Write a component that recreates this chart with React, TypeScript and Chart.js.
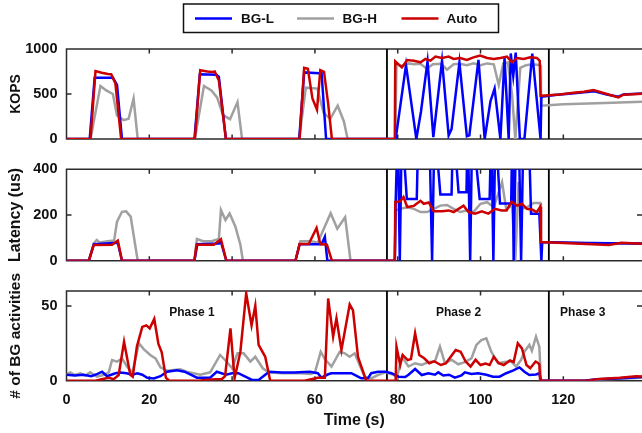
import React, { useEffect, useRef } from "react";
import { Chart, registerables } from "chart.js";

Chart.register(...registerables);

type P = [number, number];

const FONT = "'Liberation Sans', Arial, Helvetica, sans-serif";

const seriesNames = ["BG-L", "BG-H", "Auto"];
const seriesColors = ["#0000ff", "#a0a0a0", "#cc0000"];
const seriesOrder = [1, 2, 0];

const xTicks = [0, 20, 40, 60, 80, 100, 120];
const xMax = 139;
const phaseBoundaries = [77.4, 116.5];
const phaseLabels = ["Phase 1", "Phase 2", "Phase 3"];
const phaseLabelX = [30.3, 94.7, 124.7];
const phaseLabelY = 45.3;

// ---- KOPS ----
const kopsBGL: P[] = [
  [0, 0], [5.6, 0], [6.8, 680], [11.2, 680], [12.2, 600], [13.4, 0],
  [30.9, 0], [32.2, 720], [36.2, 715], [36.8, 690], [38.5, 0],
  [56.2, 0], [57.4, 740], [61, 730], [61.6, 740], [62.7, 0],
  [79.5, 0], [82, 820], [84.5, 0], [85.6, 300], [87.2, 860], [88.6, 20], [90.7, 870],
  [92.3, 40], [93, 110], [94.9, 850], [96.7, 30], [97.3, 40], [99.5, 880], [101, 0],
  [102.4, 420], [103.4, 560], [104.8, 0], [105.8, 900], [106.8, 0], [107.3, 950],
  [107.9, 700], [108.5, 960], [109.5, 0], [110.6, 0], [112.5, 950], [114.5, 0],
  [114.7, 470], [118, 490], [122, 505], [125, 520], [127.5, 530], [130.5, 495],
  [133.3, 470], [134.5, 495], [139, 505],
];
const kopsBGH: P[] = [
  [0, 0], [5.8, 0], [8.2, 590], [9.6, 540], [11.2, 500], [12.2, 260], [13.8, 210],
  [15, 225], [16.2, 450], [17.2, 0],
  [31, 0], [33.2, 590], [35, 540], [36.4, 460], [37.8, 265], [39.5, 220], [41.3, 410], [42.4, 0],
  [56.2, 0], [57.8, 570], [60.6, 560], [62.1, 290], [63.7, 225], [65.5, 370], [67, 195], [67.9, 0],
  [79.4, 0], [79.7, 830], [81, 810], [82.5, 840], [84, 830], [85.5, 835], [87, 780],
  [88.5, 830], [90.5, 835], [91.9, 770], [93.5, 830], [95, 835], [96.7, 820], [98.3, 840],
  [100, 820], [101.6, 840], [103.2, 830], [104.4, 600], [105.5, 840], [106.6, 850],
  [107.6, 500], [108.4, 0], [109.6, 790], [111, 820], [112.5, 830], [114.4, 820],
  [114.6, 370], [120, 385], [130, 400], [139, 415],
];
const kopsAuto: P[] = [
  [0, 0], [5.8, 0], [7, 755], [8.5, 737], [10, 722], [10.8, 720], [11.8, 620], [13.2, 0],
  [31, 0], [32.3, 765], [34, 750], [35.3, 745], [35.8, 750], [36.8, 650], [38.5, 0],
  [56.3, 0], [57.4, 790], [58.3, 780], [59.4, 450], [60.5, 325], [61.3, 765], [62.2, 745],
  [63.2, 390], [64.1, 0],
  [79.3, 0], [79.4, 863], [81, 796], [82.3, 878], [83.9, 870], [85.5, 852], [86.7, 889],
  [87.9, 870], [89.1, 915], [90.7, 900], [92.3, 915], [93.5, 889], [95.1, 900], [96.7, 878],
  [98.3, 907], [99.9, 926], [101.6, 900], [103.2, 889], [104.8, 900], [106.4, 915],
  [107.6, 852], [108.8, 900], [110.4, 889], [112, 907], [113.6, 900], [114.3, 870],
  [114.5, 480], [115.6, 483], [119, 495], [122.5, 515], [125, 525], [127.3, 544],
  [130.5, 500], [133.3, 463], [134.5, 493], [139, 504],
];

// ---- Latency (us) ----
const latBGL: P[] = [
  [0, 0], [5.4, 0], [6.6, 72], [12.4, 78], [13.4, 0],
  [30.9, 0], [31.6, 72], [36.8, 75], [37.3, 82], [38.6, 0],
  [55.3, 0], [56.3, 72], [61.6, 72], [62.4, 105], [63, 0],
  [79.3, 0], [79.5, 255], [80, 600], [80.5, 0], [81, 600], [82.2, 270], [84.6, 270],
  [85, 600], [87.6, 600], [88.3, 0], [88.9, 600], [90.3, 290], [93, 290], [93.4, 600],
  [94.7, 300], [96.6, 300], [96.9, 600], [97.5, 0], [98, 600], [99.8, 270], [102.2, 270],
  [102.6, 600], [103.1, 0], [103.6, 600], [104.7, 250], [107.4, 250], [107.7, 600],
  [108, 0], [108.6, 600], [109.2, 600], [109.8, 0], [110.4, 600], [111.6, 600],
  [112.2, 205], [114.2, 205], [114.7, 0], [114.9, 82], [125, 78], [139, 75],
];
const latBGH: P[] = [
  [0, 0], [5.4, 0], [6.6, 76], [7.3, 91], [8, 80], [10, 85], [11.5, 88], [12.2, 171],
  [13.4, 214], [14.4, 216], [15.5, 193], [17.2, 0],
  [30.9, 0], [31.5, 95], [33, 85], [35, 85], [36.8, 95], [37.3, 222], [38.4, 178],
  [39.4, 207], [40.8, 149], [42, 70], [42.6, 0],
  [55.3, 0], [56.5, 85], [59, 85], [60.7, 80], [63.8, 208], [65.4, 140], [67.3, 190], [68.6, 0],
  [79.3, 0], [79.5, 220], [80.6, 227], [82.3, 234], [83.9, 227], [85.5, 213], [87.1, 213],
  [88.7, 227], [90.3, 241], [91.9, 244], [93.5, 227], [95.1, 213], [96.7, 220], [98.3, 213],
  [100, 249], [101.6, 256], [103.2, 234], [104.4, 300], [105.2, 344], [106.2, 227],
  [107.6, 241], [108.4, 0], [109.2, 344], [110, 227], [111.2, 234], [112.8, 252],
  [114.4, 252], [114.6, 82], [125, 78], [139, 74],
];
const latAuto: P[] = [
  [0, 0], [5.4, 0], [6.6, 69], [11, 70], [12.4, 88], [13.4, 0],
  [30.9, 0], [31.4, 70], [35.6, 70], [37.3, 94], [38.6, 0],
  [55.3, 0], [56.3, 73], [58.5, 73], [60.4, 143], [61.3, 73], [62.9, 70], [64.1, 0],
  [79.3, 0], [79.4, 257], [80.6, 260], [81.4, 279], [82.3, 235], [83.9, 240], [85.5, 262],
  [86.3, 249], [87.5, 255], [88.7, 216], [90.7, 216], [92.3, 220], [93.5, 213], [94.7, 227],
  [95.9, 241], [97.1, 213], [98.7, 206], [100.3, 216], [101.9, 206], [103.5, 227],
  [105.1, 220], [106.3, 220], [107.5, 259], [108.8, 241], [110, 249], [111.2, 227],
  [112.4, 224], [113.6, 213], [114.4, 235], [114.6, 82], [120, 78], [127, 72], [131, 69],
  [134, 79], [139, 74],
];

// ---- # of BG activities ----
const bgBGL: P[] = [
  [0, 4], [2, 3.5], [4, 4], [6, 3], [7.5, 4.5], [8.6, 6], [9.8, 3], [11.8, 5], [13, 5.5],
  [14.5, 5], [15.9, 4], [17.1, 5], [18.3, 4], [19.5, 2], [21.1, 1.5], [22.7, 3], [24.3, 6],
  [26.7, 7], [28.5, 6], [30, 4], [31.5, 2], [34.7, 2], [36.3, 6], [38.5, 4], [40, 5],
  [41.5, 5], [43.2, 2.7], [44.8, 0.5], [46.4, 0.5], [48, 4], [49, 6], [52, 5.5], [55, 5.5],
  [58.8, 6], [60.7, 5], [61.6, 2], [63.2, 4.3], [64, 5], [68.8, 5], [70.4, 2.7], [71.2, 1.6],
  [72.8, 1.6], [73.6, 5], [75.2, 6], [77, 6], [78.5, 5], [80.2, 2.7], [81.8, 2.5], [82.6, 4],
  [84.2, 7.8], [85.8, 3.8], [87.4, 5], [89, 4], [89.8, 5.6], [91, 3.5], [92.4, 4], [93.8, 2],
  [95.4, 3.5], [96.2, 5.6], [97.8, 4.5], [99.4, 5], [101.4, 4], [103, 2.7], [104.6, 2.7],
  [106.2, 5], [107.8, 6.7], [109.4, 8.9], [110.6, 6], [111.8, 3.8], [113.4, 4.2], [114.2, 5],
  [114.6, 0], [125, 0], [128, 1], [133, 1.5], [139, 2.5],
];
const bgBGH: P[] = [
  [0, 4], [0.9, 5.6], [2.1, 3.8], [3.3, 5], [4.5, 3.5], [5.7, 5.6], [7.3, 2.7], [8.9, 3.8],
  [10.2, 5.6], [11, 13.8], [12.2, 12.7], [13.4, 15], [14.6, 9.5], [15.9, 5.3], [17.5, 25],
  [18.7, 21], [20.3, 17], [21.5, 14.9], [22.7, 8.9], [24.3, 6.6], [27.5, 7.7], [29, 6],
  [32.3, 4], [34.7, 5.6], [37.1, 17.2], [38.7, 12.7], [40, 8.3], [41.3, 18.3], [42.8, 18.3],
  [44.4, 12.8], [45.6, 16], [47.4, 8.3], [48.8, 5.6], [52, 5], [56.5, 5], [59, 4.5], [60, 5.5],
  [61.4, 19.4], [62.4, 14.5], [64, 9.5], [66, 19.4], [67.2, 18.3], [68.4, 16], [69.6, 18.3],
  [70.8, 10.5], [72, 2.7], [73.6, 1.6], [75.2, 3.8], [77, 5.6], [79, 4], [79.8, 2], [81, 16],
  [82.6, 9.5], [84.2, 11.7], [85.8, 10.5], [87.4, 12.4], [89, 13], [90.2, 22.8], [91.4, 11.7],
  [93, 14], [94.6, 11], [96.2, 12.4], [97.8, 14.9], [99, 23.9], [100.2, 27.2], [101.4, 28.3],
  [102.6, 19.4], [104.2, 11.7], [105.8, 12.5], [107.4, 13], [108.6, 9.5], [109.8, 14],
  [110.6, 19.4], [111.8, 24], [112.4, 20], [113.4, 29.4], [114.2, 22.8], [114.6, 0],
  [126, 0], [130, 1], [135, 1.5], [139, 2],
];
const bgAuto: P[] = [
  [0, 0], [7, 0], [8.5, 1], [10.2, 2], [11.4, 1], [12.6, 3.8], [13.9, 26], [15.4, 4], [16, 2.7],
  [17, 22.8], [18.3, 36], [19.3, 37], [20.1, 35], [21.2, 41.3], [22.2, 24.6], [23, 19], [24, 2],
  [24.8, 0], [31.9, 0], [33.5, 0.5], [35.9, 1], [37.5, 1], [38.3, 3], [39.6, 35], [40.6, 1.6],
  [42, 19.4], [43.4, 58.5], [44.7, 37], [45.6, 50.2], [46.4, 24], [48, 16], [49.2, 0],
  [57.5, 0], [59.1, 1], [60.7, 2], [62.4, 2], [63.2, 55], [64.4, 29.5], [65.2, 41.8],
  [66.4, 20.5], [68.4, 51], [69.2, 47], [70.4, 16], [71.2, 9.5], [72.4, 0],
  [79.5, 0], [79.7, 22.8], [80.6, 10.5], [81.2, 17.2], [82.4, 13.8], [83.2, 14.5], [84.2, 31.7],
  [85.2, 17.2], [86.4, 15], [87.6, 11.7], [88.8, 13], [90.4, 10.5], [91.6, 11.5], [92.8, 16],
  [94, 20.5], [95.2, 19.4], [96.4, 12.8], [97.6, 9.5], [98.8, 14], [100, 10.5], [101.2, 11.5],
  [102.2, 10.5], [103.2, 16], [104.4, 11.7], [105.6, 10.5], [107.1, 13.5], [108, 12.5],
  [109, 25], [110, 21.6], [111.1, 10.5], [112, 8.3], [113.3, 12.8], [113.8, 12], [114.2, 11],
  [114.4, 0], [125.7, 0], [128, 1], [133.6, 2], [137.6, 3], [139, 2.8],
];

const kopsTicks = [0, 500, 1000];
const latTicks = [0, 200, 400];
const bgTicks = [0, 50];

type PanelCfg = {
  top: number;
  height: number;
  padTop: number;
  padBottom: number;
  yMax: number;
  yTicks: number[];
  title: string;
  titleSize: number;
  series: P[][];
  legend: boolean;
  xLabels: boolean;
  phases: boolean;
};

const panels: PanelCfg[] = [
  { top: 0, height: 150, padTop: 49, padBottom: 11, yMax: 1000, yTicks: kopsTicks, title: "KOPS", titleSize: 14,
    series: [kopsBGL, kopsBGH, kopsAuto], legend: true, xLabels: false, phases: false },
  { top: 150, height: 120, padTop: 19.3, padBottom: 9.3, yMax: 400, yTicks: latTicks, title: "Latency (us)", titleSize: 16,
    series: [latBGL, latBGH, latAuto], legend: false, xLabels: false, phases: false },
  { top: 270, height: 163, padTop: 21, padBottom: 0, yMax: 60, yTicks: bgTicks, title: "# of BG activities", titleSize: 15.5,
    series: [bgBGL, bgBGH, bgAuto], legend: false, xLabels: true, phases: true },
];

const framePlugin = {
  id: "frame",
  beforeDatasetsDraw(chart: any, _args: any, opts: any) {
    const { ctx, chartArea } = chart;
    const { left, top, right, bottom } = chartArea;
    const xs = chart.scales.x;
    const ys = chart.scales.y;
    ctx.save();
    ctx.strokeStyle = "#2b2b2b";
    ctx.lineWidth = 1.5;
    ctx.beginPath();
    ctx.moveTo(right + 2, top);
    ctx.lineTo(left, top);
    ctx.lineTo(left, bottom);
    ctx.lineTo(right + 2, bottom);
    ctx.stroke();
    ctx.beginPath();
    for (const v of xTicks) {
      if (v === 0) continue;
      const px = xs.getPixelForValue(v);
      ctx.moveTo(px, top);
      ctx.lineTo(px, top + 4.5);
      ctx.moveTo(px, bottom);
      ctx.lineTo(px, bottom - 4.5);
    }
    for (const v of opts.yTicks as number[]) {
      const py = ys.getPixelForValue(v);
      if (Math.abs(py - top) < 1 || Math.abs(py - bottom) < 1) continue;
      ctx.moveTo(left, py);
      ctx.lineTo(left + 5, py);
      ctx.moveTo(right, py);
      ctx.lineTo(right - 5, py);
    }
    ctx.stroke();
    ctx.strokeStyle = "#000";
    ctx.lineWidth = 1.8;
    ctx.beginPath();
    for (const b of phaseBoundaries) {
      const px = xs.getPixelForValue(b);
      ctx.moveTo(px, top);
      ctx.lineTo(px, bottom);
    }
    ctx.stroke();
    ctx.restore();
  },
  afterDatasetsDraw(chart: any, _args: any, opts: any) {
    const { ctx } = chart;
    if (opts.phases) {
      const xs = chart.scales.x;
      const ys = chart.scales.y;
      ctx.save();
      ctx.fillStyle = "#111";
      ctx.font = `bold 12px ${FONT}`;
      ctx.textAlign = "center";
      ctx.textBaseline = "middle";
      phaseLabels.forEach((t, i) => {
        ctx.fillText(t, xs.getPixelForValue(phaseLabelX[i]), ys.getPixelForValue(phaseLabelY));
      });
      ctx.restore();
    }
    if (opts.legend) {
      ctx.save();
      ctx.fillStyle = "#fff";
      ctx.fillRect(183.5, 4, 315, 28.5);
      ctx.strokeStyle = "#111";
      ctx.lineWidth = 1.5;
      ctx.strokeRect(183.5, 4, 315, 28.5);
      const lineX = [195, 297, 401.5];
      const textX = [241, 342.5, 446.5];
      const cy = 18.5;
      ctx.font = `bold 13.5px ${FONT}`;
      ctx.textBaseline = "middle";
      ctx.textAlign = "left";
      seriesNames.forEach((n, i) => {
        ctx.strokeStyle = seriesColors[i];
        ctx.lineWidth = 2.5;
        ctx.beginPath();
        ctx.moveTo(lineX[i], cy);
        ctx.lineTo(lineX[i] + 37, cy);
        ctx.stroke();
        ctx.fillStyle = "#111";
        ctx.fillText(n, textX[i], cy + 0.5);
      });
      ctx.restore();
    }
  },
};

function makeChart(canvas: HTMLCanvasElement, cfg: PanelCfg) {
  return new Chart(canvas, {
    type: "line",
    data: {
      datasets: cfg.series.map((s, i) => ({
        label: seriesNames[i],
        data: s.map(([x, y]) => ({ x, y })),
        borderColor: seriesColors[i],
        backgroundColor: seriesColors[i],
        borderWidth: 2.5,
        pointRadius: 0,
        tension: 0,
        fill: false,
        order: seriesOrder[i],
      })),
    },
    options: {
      responsive: false,
      animation: false,
      devicePixelRatio: 1,
      layout: { padding: { top: cfg.padTop, bottom: cfg.padBottom, left: 0, right: 0 } },
      plugins: {
        legend: { display: false },
        tooltip: { enabled: false },
        frame: { yTicks: cfg.yTicks, legend: cfg.legend, phases: cfg.phases },
      } as any,
      scales: {
        x: {
          type: "linear",
          min: 0,
          max: xMax,
          display: cfg.xLabels,
          afterBuildTicks: (s: any) => {
            s.ticks = xTicks.map((v) => ({ value: v }));
          },
          afterFit: (s: any) => {
            if (cfg.xLabels) s.height = 52.3;
            s.paddingLeft = 0;
            s.paddingRight = 0;
          },
          grid: { display: false, drawTicks: false },
          border: { display: false },
          ticks: {
            padding: 10.6,
            maxRotation: 0,
            autoSkip: false,
            color: "#111",
            font: { family: FONT, size: 14.5, weight: "bold" },
            callback: (v: any) => String(v),
          },
          title: {
            display: true,
            text: "Time (s)",
            color: "#111",
            font: { family: FONT, size: 16, weight: "bold" },
            padding: { top: 0, bottom: 2.4 },
          },
        },
        y: {
          type: "linear",
          min: 0,
          max: cfg.yMax,
          afterBuildTicks: (s: any) => {
            s.ticks = cfg.yTicks.map((v) => ({ value: v }));
          },
          afterFit: (s: any) => {
            s.width = 66.5;
            s.paddingTop = 0;
            s.paddingBottom = 0;
          },
          grid: { display: false, drawTicks: false },
          border: { display: false },
          ticks: {
            padding: 9,
            color: "#111",
            font: { family: FONT, size: 14.5, weight: "bold" },
            callback: (v: any) => String(v),
          },
          title: {
            display: true,
            text: cfg.title,
            color: "#111",
            font: { family: FONT, size: cfg.titleSize, weight: "bold" },
            padding: { top: 16 - (cfg.titleSize * 1.2) / 2, bottom: 0 },
          },
        },
      },
    } as any,
    plugins: [framePlugin],
  });
}

export default function App() {
  const r0 = useRef<HTMLCanvasElement>(null);
  const r1 = useRef<HTMLCanvasElement>(null);
  const r2 = useRef<HTMLCanvasElement>(null);
  const refs = [r0, r1, r2];

  useEffect(() => {
    const charts = panels.map((cfg, i) => makeChart(refs[i].current!, cfg));
    return () => charts.forEach((c) => c.destroy());
  }, []);

  return (
    <div style={{ position: "absolute", left: 0, top: 0, width: 642, height: 433, background: "#fff", overflow: "hidden" }}>
      {panels.map((cfg, i) => (
        <canvas
          key={i}
          ref={refs[i]}
          width={642}
          height={cfg.height}
          style={{ position: "absolute", left: 0, top: cfg.top, width: 642, height: cfg.height }}
        />
      ))}
    </div>
  );
}
